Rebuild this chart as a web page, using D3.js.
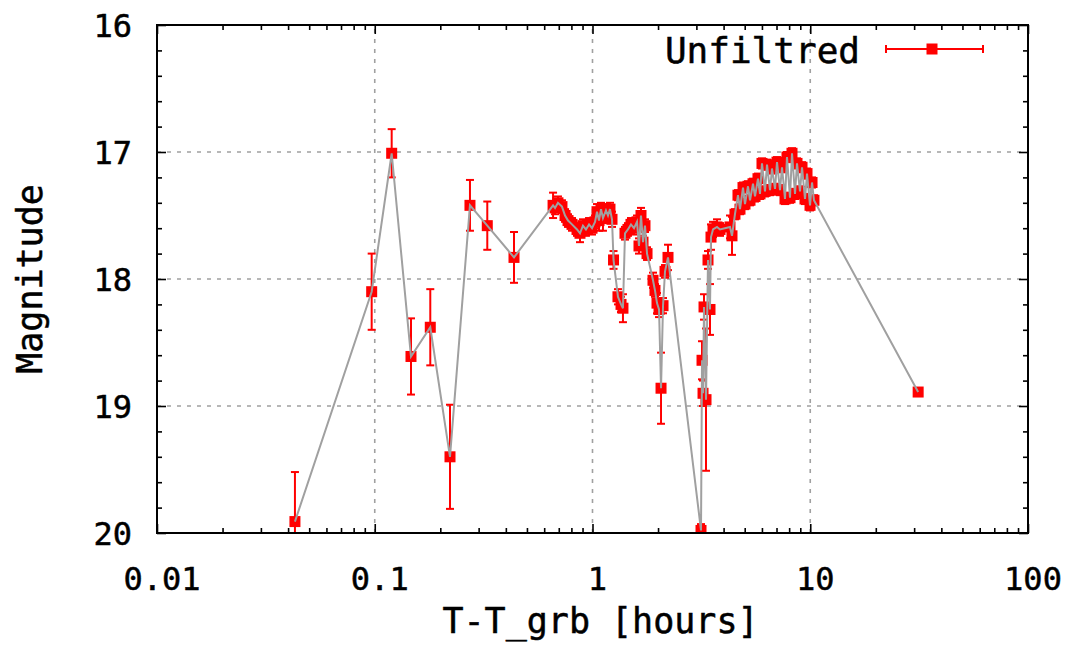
<!DOCTYPE html>
<html>
<head>
<meta charset="utf-8">
<script src="https://cdn.jsdelivr.net/npm/d3@7"></script>
<style>
  html, body { margin: 0; padding: 0; background: #fff; }
  svg { display: block; }
  text { font-family: "DejaVu Sans Mono", "Liberation Mono", monospace; fill: #000; stroke: #000; stroke-width: 0.5px; }
</style>
</head>
<body>
<svg id="chart" width="1072" height="645"></svg>
<script>
// Light curve: time since GRB trigger (hours), unfiltered magnitude and its 1-sigma error
const timeHours = [
  0.0430, 0.0968, 0.1196, 0.1467, 0.1799, 0.2216, 0.2737, 0.3287, 0.4360,
  0.659, 0.673, 0.694, 0.724, 0.748, 0.772, 0.805,
  0.849, 0.876, 0.904, 0.933, 0.964, 0.995, 1.027,
  1.049, 1.071, 1.094, 1.117, 1.153, 1.178, 1.203, 1.229, 1.249,
  1.309, 1.352, 1.380, 1.410, 1.455, 1.502, 1.551, 1.601, 1.635, 1.670, 1.706, 1.742, 1.780,
  1.896, 1.936, 1.978, 2.021, 2.064, 2.108, 2.153, 2.222,
  3.150, 3.184, 3.218, 3.252, 3.321, 3.392, 3.464, 3.501, 3.576, 3.731, 3.851,
  4.280, 4.371,
  4.511, 4.657, 4.757, 4.911, 5.015, 5.177, 5.288, 5.459, 5.576, 5.754, 5.878, 6.003,
  6.197, 6.330, 6.535, 6.673, 6.889, 7.036, 7.263, 7.419, 7.656, 7.820, 8.072, 8.245,
  8.511, 8.693, 8.973, 9.166, 9.461, 9.663, 9.975, 10.19, 10.40,
  31.3
];
const magnitude = [
  19.91, 18.10, 17.01, 18.61, 18.38, 19.40, 17.42, 17.58, 17.83,
  17.42, 17.44, 17.40, 17.43, 17.50, 17.54, 17.57,
  17.61, 17.64, 17.58, 17.61, 17.57, 17.60, 17.55,
  17.47, 17.54, 17.45, 17.52, 17.46, 17.50, 17.45, 17.53, 17.85,
  18.14, 18.20, 18.23, 17.64, 17.61, 17.57, 17.60, 17.55, 17.74, 17.50, 17.71, 17.58, 17.80,
  18.01, 18.09, 18.19, 18.24, 18.86, 18.21, 17.94, 17.83,
  19.98, 18.64, 18.90, 18.22, 18.95, 17.85, 18.24, 17.67, 17.61, 17.59, 17.61,
  17.59, 17.66,
  17.49, 17.34, 17.45, 17.28, 17.41, 17.27, 17.38, 17.25, 17.35, 17.21, 17.33, 17.09,
  17.31, 17.10, 17.30, 17.13, 17.29, 17.08, 17.30, 17.12, 17.37, 17.04, 17.36, 17.01,
  17.33, 17.09, 17.31, 17.12, 17.37, 17.17, 17.42, 17.24, 17.38,
  18.89
];
const magError = [
  0.39, 0.30, 0.19, 0.30, 0.30, 0.41, 0.20, 0.19, 0.20,
  0.10, 0.05, 0.05, 0.05, 0.05, 0.05, 0.05,
  0.05, 0.07, 0.05, 0.05, 0.05, 0.05, 0.05,
  0.06, 0.08, 0.05, 0.10, 0.05, 0.06, 0.05, 0.06, 0.07,
  0.06, 0.06, 0.11, 0.05, 0.05, 0.05, 0.05, 0.05, 0.06, 0.06, 0.05, 0.05, 0.05,
  0.06, 0.05, 0.08, 0.06, 0.28, 0.06, 0.05, 0.10,
  0.05, 0.15, 0.10, 0.10, 0.56, 0.07, 0.20, 0.10, 0.06, 0.06, 0.05,
  0.09, 0.15,
  0.04, 0.04, 0.04, 0.04, 0.04, 0.04, 0.04, 0.04, 0.04, 0.04, 0.04, 0.04,
  0.04, 0.04, 0.04, 0.04, 0.04, 0.04, 0.04, 0.04, 0.04, 0.04, 0.04, 0.04,
  0.04, 0.04, 0.04, 0.04, 0.04, 0.04, 0.04, 0.04, 0.04,
  0.03
];
const xTickValues = [0.01, 0.1, 1, 10, 100];
const xTickLabels = ["0.01", "0.1", "1", "10", "100"];
const yTickValues = [16, 17, 18, 19, 20];
const seriesName = "Unfiltred";

const svg = d3.select("#chart");
const plotL = 157, plotR = 1028, plotT = 25, plotB = 533;

const x = d3.scaleLog().domain([0.01, 100]).range([plotL, plotR]);
const y = d3.scaleLinear().domain([16, 20]).range([plotT, plotB]);

const points = timeHours.map((t, i) => ({ t, m: magnitude[i], e: magError[i] }));

// clip region for the data
svg.append("defs").append("clipPath").attr("id", "plotClip")
  .append("rect").attr("x", plotL).attr("y", plotT).attr("width", plotR - plotL).attr("height", plotB - plotT);

// dotted grid at major ticks
const grid = svg.append("g").attr("stroke", "#a0a0a0").attr("stroke-width", 1.6).attr("stroke-dasharray", "4,6");
xTickValues.filter(v => v > 0.01 && v < 100).forEach(v => {
  grid.append("line").attr("x1", x(v)).attr("x2", x(v)).attr("y1", plotB).attr("y2", plotT);
});
yTickValues.filter(v => v > 16 && v < 20).forEach(v => {
  grid.append("line").attr("x1", plotL).attr("x2", plotR).attr("y1", y(v)).attr("y2", y(v));
});

// inward ticks on all four sides, major + minor
const xMinor = [];
for (let d = 0.01; d < 100; d *= 10) for (let k = 2; k <= 9; k++) xMinor.push(d * k);
const yMinor = d3.range(16, 20.001, 0.2).filter(v => Math.abs(v - Math.round(v)) > 1e-6);

function styleAxis(g) {
  g.select(".domain").remove();
  g.selectAll(".tick line").attr("stroke", "#000").attr("stroke-width", 1.6);
}
const axes = [
  [d3.axisBottom(x).tickValues(xTickValues).tickSize(-9), `translate(0,${plotB})`],
  [d3.axisTop(x).tickValues(xTickValues).tickSize(-9), `translate(0,${plotT})`],
  [d3.axisBottom(x).tickValues(xMinor).tickSize(-5), `translate(0,${plotB})`],
  [d3.axisTop(x).tickValues(xMinor).tickSize(-5), `translate(0,${plotT})`],
  [d3.axisLeft(y).tickValues(yTickValues).tickSize(-9), `translate(${plotL},0)`],
  [d3.axisRight(y).tickValues(yTickValues).tickSize(-9), `translate(${plotR},0)`],
  [d3.axisLeft(y).tickValues(yMinor).tickSize(-5), `translate(${plotL},0)`],
  [d3.axisRight(y).tickValues(yMinor).tickSize(-5), `translate(${plotR},0)`]
];
axes.forEach(([ax, tr]) => {
  svg.append("g").attr("transform", tr).call(ax.tickFormat("")).call(styleAxis);
});

// tick labels
svg.append("g").selectAll("text").data(xTickValues).join("text")
  .attr("x", d => x(d) + 5).attr("y", 590)
  .attr("text-anchor", "middle").attr("font-size", 32)
  .text((d, i) => xTickLabels[i]);
svg.append("g").selectAll("text").data(yTickValues).join("text")
  .attr("x", 132).attr("y", d => y(d)).attr("dy", "0.36em")
  .attr("text-anchor", "end").attr("font-size", 32)
  .text(d => d);

// axis titles
svg.append("text").attr("x", (plotL + plotR) / 2 + 8).attr("y", 633)
  .attr("text-anchor", "middle").attr("font-size", 35).text("T-T_grb [hours]");
svg.append("text").attr("transform", `translate(42,${(plotT + plotB) / 2}) rotate(-90)`)
  .attr("text-anchor", "middle").attr("font-size", 35).text("Magnitude");

// data: error bars and square markers in red, connecting line in grey on top
const dataG = svg.append("g").attr("clip-path", "url(#plotClip)");
const red = "#ff0000";
const cap = 4;
const eb = dataG.append("g").attr("stroke", red).attr("stroke-width", 2);
points.forEach(p => {
  const px = x(p.t), y1 = y(p.m - p.e), y2 = y(p.m + p.e);
  eb.append("line").attr("x1", px).attr("x2", px).attr("y1", y1).attr("y2", y2);
  eb.append("line").attr("x1", px - cap).attr("x2", px + cap).attr("y1", y1).attr("y2", y1);
  eb.append("line").attr("x1", px - cap).attr("x2", px + cap).attr("y1", y2).attr("y2", y2);
});
const sq = 11;
dataG.append("g").selectAll("rect").data(points).join("rect")
  .attr("x", d => x(d.t) - sq / 2).attr("y", d => y(d.m) - sq / 2)
  .attr("width", sq).attr("height", sq).attr("fill", red);

dataG.append("path").datum(points)
  .attr("fill", "none").attr("stroke", "#a0a0a0").attr("stroke-width", 2)
  .attr("d", d3.line().x(d => x(d.t)).y(d => y(d.m)));

// frame
svg.append("rect").attr("x", plotL).attr("y", plotT).attr("width", plotR - plotL).attr("height", plotB - plotT)
  .attr("fill", "none").attr("stroke", "#000").attr("stroke-width", 2);

// legend
const lg = svg.append("g");
lg.append("text").attr("x", 860).attr("y", 50).attr("dy", "0.36em")
  .attr("text-anchor", "end").attr("font-size", 36).text(seriesName);
lg.append("line").attr("x1", 886).attr("x2", 983).attr("y1", 49).attr("y2", 49).attr("stroke", red).attr("stroke-width", 2);
lg.append("line").attr("x1", 886).attr("x2", 886).attr("y1", 45).attr("y2", 53).attr("stroke", red).attr("stroke-width", 2);
lg.append("line").attr("x1", 983).attr("x2", 983).attr("y1", 45).attr("y2", 53).attr("stroke", red).attr("stroke-width", 2);
lg.append("rect").attr("x", 932 - sq / 2).attr("y", 49 - sq / 2).attr("width", sq).attr("height", sq).attr("fill", red);
</script>
</body>
</html>
